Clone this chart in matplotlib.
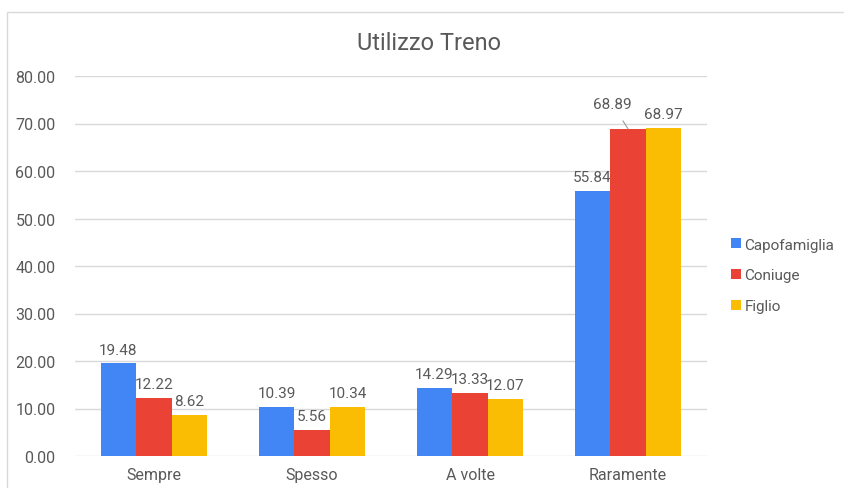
import matplotlib.pyplot as plt
import matplotlib.patches as pch
import numpy as np

plt.rcParams['font.family'] = ['Roboto', 'DejaVu Sans']

categories = ['Sempre', 'Spesso', 'A volte', 'Raramente']
series_names = ['Capofamiglia', 'Coniuge', 'Figlio']
capofamiglia = [19.48, 10.39, 14.29, 55.84]
coniuge = [12.22, 5.56, 13.33, 68.89]
figlio = [8.62, 10.34, 12.07, 68.97]
colors = ['#4285F4', '#EA4335', '#FBBC04']
yticks = [0, 10, 20, 30, 40, 50, 60, 70, 80]

text_col = '#595959'

fig = plt.figure(figsize=(8.44, 4.89), dpi=100)
# light frame of the chart (only top and left visible)
fig.add_artist(pch.Rectangle((7/844, -0.1), 1.2, 1 - 13/489 + 0.1, transform=fig.transFigure,
                             fill=False, edgecolor='#d9d9d9', linewidth=1.0))

ax = fig.add_axes([75/844, 1 - 457/489, (707 - 75)/844, 380/489])

x = np.arange(len(categories))
width = 0.225
all_series = [capofamiglia, coniuge, figlio]
for i, (vals, name, c) in enumerate(zip(all_series, series_names, colors)):
    pos = x + (i - 1) * width
    ax.bar(pos, vals, width, color=c, label=name, zorder=3)
    for j, (p, v) in enumerate(zip(pos, vals)):
        if name == 'Coniuge' and categories[j] == 'Raramente':
            ax.annotate('%.2f' % v, xy=(p, v), xytext=(p - 0.1, v + 5.2),
                        ha='center', va='center', fontsize=11, color=text_col,
                        arrowprops=dict(arrowstyle='-', color='#999999', lw=0.8,
                                        shrinkA=6, shrinkB=0))
        else:
            ax.annotate('%.2f' % v, xy=(p, v), xytext=(0, 5), textcoords='offset points',
                        ha='center', va='bottom', fontsize=11, color=text_col)

ax.set_xlim(-0.5, 3.5)
ax.set_ylim(0, 80)
ax.set_yticks(yticks)
ax.set_yticklabels(['%.2f' % t for t in yticks])
ax.set_xticks(x)
ax.set_xticklabels(categories)
ax.tick_params(length=0, labelsize=11.5, labelcolor=text_col)
ax.tick_params(axis='y', pad=14)
ax.tick_params(axis='x', pad=8)
ax.grid(axis='y', color='#d9d9d9', linewidth=1.0, zorder=0)
for s in ax.spines.values():
    s.set_visible(False)

fig.text(429/844, 1 - 43/489, 'Utilizzo Treno', ha='center', va='center',
         fontsize=17, color=text_col)

leg = ax.legend(loc='center left', bbox_to_anchor=(1.0, 0.475), frameon=False,
                fontsize=11, labelcolor=text_col, handlelength=0.6, handleheight=0.6,
                handletextpad=0.25, labelspacing=1.1, borderaxespad=1.2)

fig.savefig('out.png', dpi=100)
